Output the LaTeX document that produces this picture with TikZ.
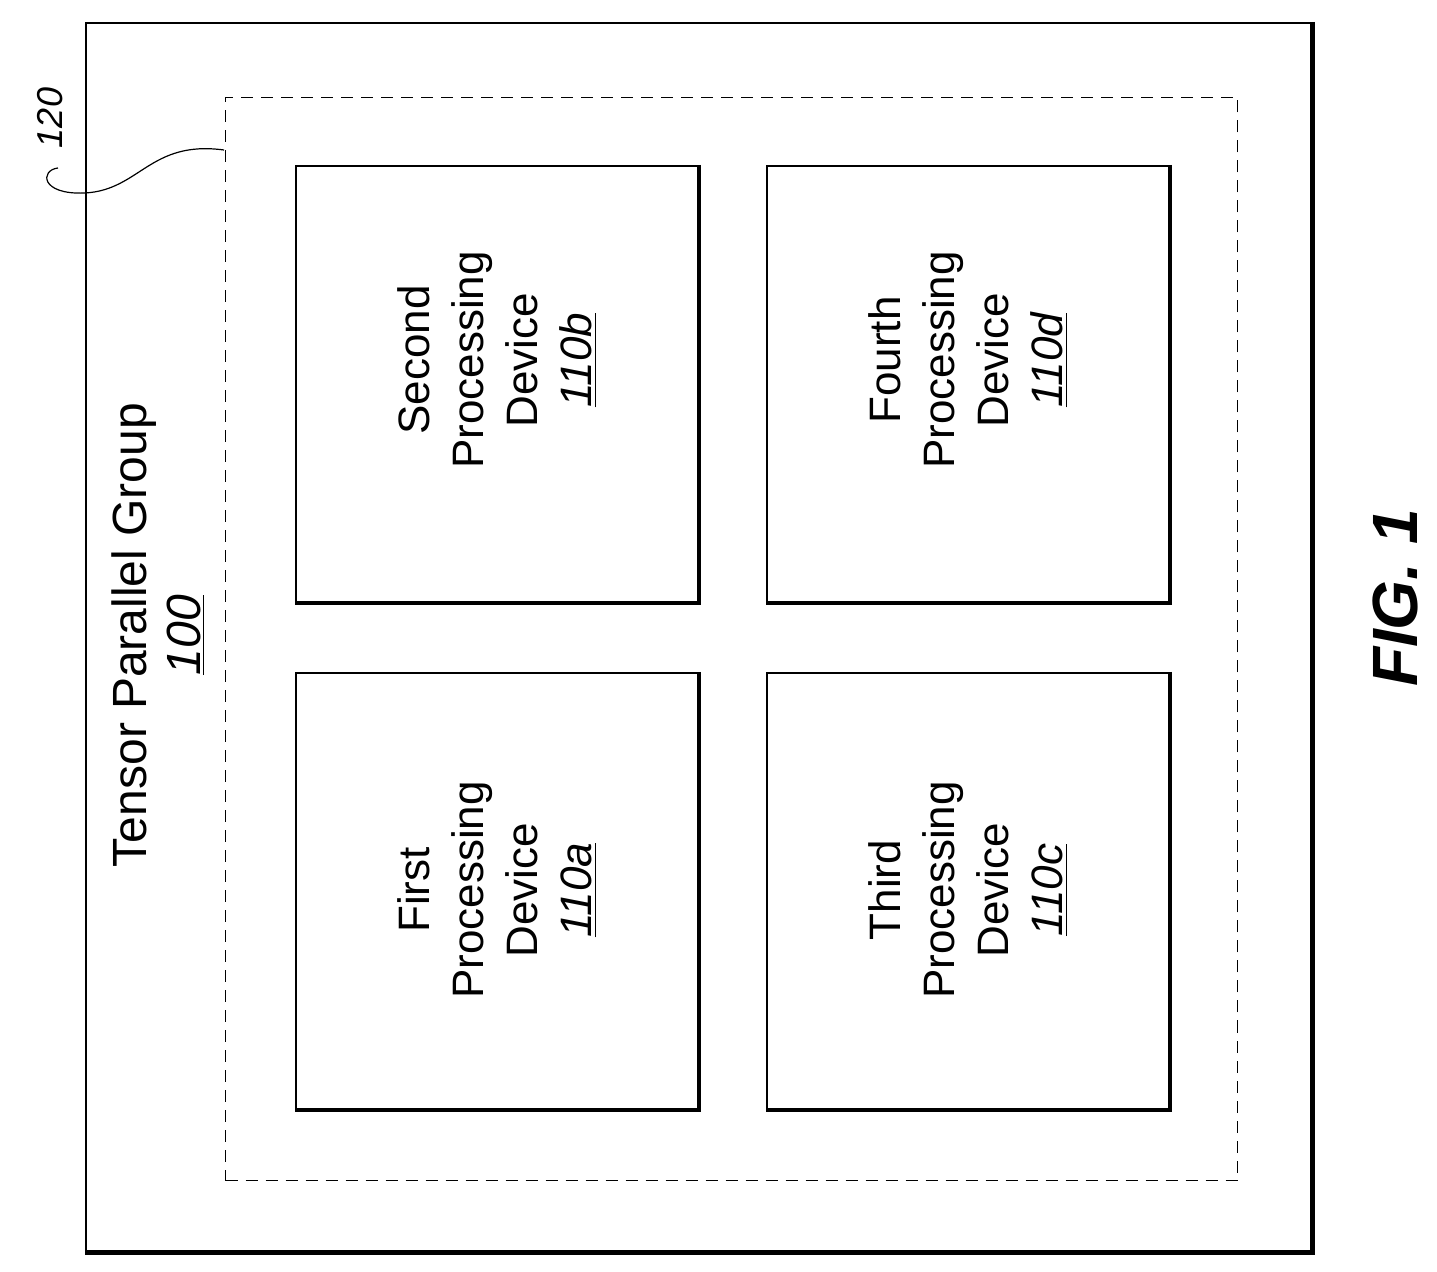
\documentclass[tikz,border=0pt]{standalone}
\usepackage{fontspec}
\setmainfont{Liberation Sans}
\begin{document}
\begin{tikzpicture}[x=0.5pt,y=-0.5pt,
  dev/.style={draw,line width=1pt},
  lbl/.style={rotate=90,align=center,font=\fontsize{22}{27}\selectfont}]
\useasboundingbox (0,0) rectangle (1437,1272);
% outer box
\node[draw,line width=1pt,minimum width=612.5pt,minimum height=614pt,anchor=north west] (outer) at (85,22) {};
\draw[line width=2.5pt] (outer.north east) -- (outer.south east) -- (outer.south west);
% dashed box
\node[draw,dash pattern=on 6pt off 4pt,line width=0.5pt,minimum width=506pt,minimum height=541.5pt,anchor=north west] (grp) at (225,97) {};
% devices
\foreach \n/\x/\y in {b/295/165, d/766/165, a/295/672, c/766/672}{
  \node[dev,minimum width=201pt,minimum height=218pt,anchor=north west] (d\n) at (\x,\y) {};
  \draw[line width=2pt] (d\n.north east) -- (d\n.south east) -- (d\n.south west);
}
\node[lbl] (tb) at (497,360) {Second\\Processing\\Device\\\underline{\itshape 110b}};
\node[lbl] (td) at (968,360) {Fourth\\Processing\\Device\\\underline{\itshape 110d}};
\node[lbl] (ta) at (497,890) {First\\Processing\\Device\\\underline{\itshape 110a}};
\node[lbl] (tc) at (968,890) {Third\\Processing\\Device\\\underline{\itshape 110c}};
\node[rotate=90,align=center,font=\fontsize{24}{27}\selectfont] (tpg) at (158,635) {Tensor Parallel Group\\\underline{\itshape 100}};
\node[rotate=90,font=\fontsize{32}{36}\selectfont\bfseries\itshape] (fig) at (1395,598) {FIG. 1};
\node[rotate=90,font=\fontsize{18}{20}\selectfont\itshape] (l120) at (50,118) {120};
\coordinate (c1) at (85,193);
\coordinate (c2) at (224,150);
\draw[line width=0.6pt] (58,168) .. controls (40,170) and (40,195) .. (c1)
  .. controls (140,190) and (150,140) .. (c2);
\end{tikzpicture}
\end{document}
